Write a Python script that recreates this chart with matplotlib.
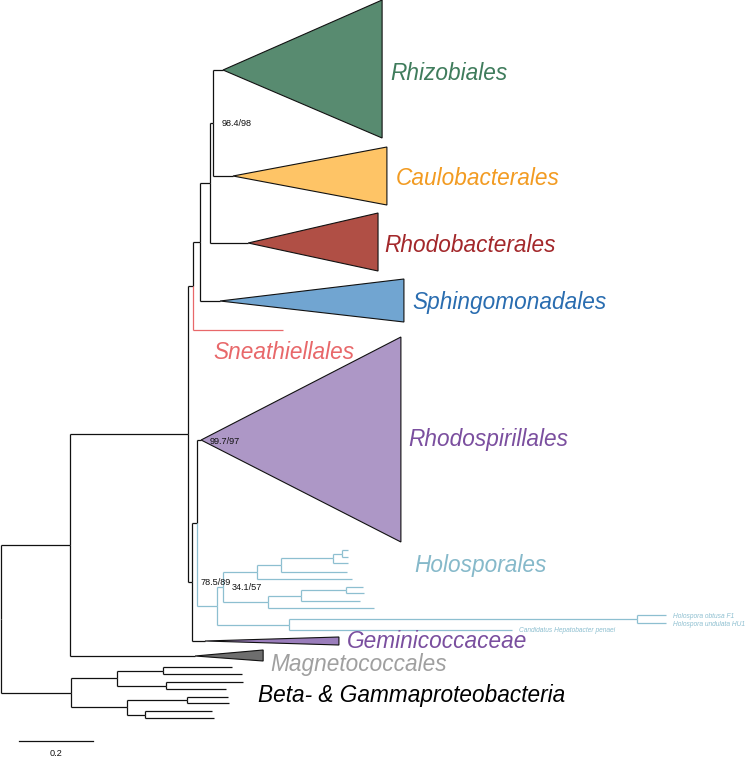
import matplotlib
matplotlib.use("Agg")
import matplotlib.pyplot as plt
from matplotlib.patches import Polygon

# ---------------- data: tree topology & branch lengths (subst./site) ----------------
node_name = ["root", "R0", "BG", "A", "Magnetococcales", "B", "N1", "D", "Sneathiellales",
             "E", "Sphingomonadales", "F", "Rhodobacterales", "Rhizobiales", "Caulobacterales",
             "C", "Geminicoccaceae", "Rhodospirillales", "H", "H1", "H2", "H11", "H12",
             "H111", "h5", "H1111", "h4", "H11111", "h3", "h1", "h2", "H121", "h9",
             "H1211", "h8", "h6", "h7", "Hol", "Candidatus Hepatobacter penaei",
             "Holospora obtusa F1", "Holospora undulata HU1",
             "BG1", "BG2", "BG11", "BG12", "g1", "g2", "g3", "g4", "BG21", "BG22",
             "g5", "g6", "g7", "g8"]
node_parent = [None, "root", "root", "R0", "R0", "A", "A", "B", "B",
               "D", "D", "E", "E", "F", "F",
               "N1", "N1", "C", "C", "H", "H", "H1", "H1",
               "H11", "H11", "H111", "H111", "H1111", "H1111", "H11111", "H11111", "H12", "H12",
               "H121", "H121", "H1211", "H1211", "H2", "H2",
               "Hol", "Hol",
               "BG", "BG", "BG1", "BG1", "BG11", "BG11", "BG12", "BG12", "BG2", "BG2",
               "BG21", "BG21", "BG22", "BG22"]
branch_len = [0.0, 0.1865, 0.189, 0.319, 0.338, 0.0135, 0.0108, 0.019, 0.243,
              0.027, 0.054, 0.008, 0.103, 0.027, 0.054,
              0.0135, 0.035, 0.011, 0.054, 0.016, 0.195, 0.092, 0.122,
              0.065, 0.257, 0.141, 0.178, 0.024, 0.041, 0.016, 0.016, 0.089, 0.286,
              0.122, 0.159, 0.046, 0.049, 0.940, 0.603,
              0.078, 0.078,
              0.124, 0.151, 0.124, 0.132, 0.186, 0.214, 0.208, 0.162, 0.162, 0.049,
              0.111, 0.113, 0.181, 0.186]

# collapsed clades: depth of the collapsed subtree
clade_names = ["Rhizobiales", "Caulobacterales", "Rhodobacterales", "Sphingomonadales",
               "Rhodospirillales", "Geminicoccaceae", "Magnetococcales"]
clade_depth = [0.430, 0.416, 0.351, 0.497, 0.540, 0.362, 0.184]

# node support values (SH-aLRT / UFBoot)
support_nodes = ["F", "Rhodospirillales", "N1", "H1"]
support_text = ["98.4/98", "99.7/97", "78.5/89", "34.1/57"]

# ---------------- layout (rows) ----------------
tip_row = {"Rhizobiales": 70, "Caulobacterales": 176, "Rhodobacterales": 243,
           "Sphingomonadales": 301, "Sneathiellales": 330, "Rhodospirillales": 440,
           "h1": 550, "h2": 557, "h3": 563, "h4": 572, "h5": 579, "h6": 587, "h7": 593,
           "h8": 601, "h9": 608, "Holospora obtusa F1": 615, "Holospora undulata HU1": 623,
           "Candidatus Hepatobacter penaei": 630, "Geminicoccaceae": 641,
           "Magnetococcales": 656, "g1": 667, "g2": 674, "g3": 682, "g4": 689,
           "g5": 697, "g6": 703, "g7": 711, "g8": 718}
clade_span = {"Rhizobiales": (0, 138), "Caulobacterales": (147, 205),
              "Rhodobacterales": (213, 271), "Sphingomonadales": (279, 322),
              "Rhodospirillales": (337, 542), "Geminicoccaceae": (637, 645),
              "Magnetococcales": (650, 661)}
clade_fill = {"Rhizobiales": "#588b70", "Caulobacterales": "#fec466",
              "Rhodobacterales": "#b04f45", "Sphingomonadales": "#71a5d1",
              "Rhodospirillales": "#ad97c6", "Geminicoccaceae": "#9a7dbb",
              "Magnetococcales": "#6e6e6e"}
label_color = {"Rhizobiales": "#3f7c5c", "Caulobacterales": "#f29b22",
               "Rhodobacterales": "#a3282b", "Sphingomonadales": "#2a6db0",
               "Rhodospirillales": "#7b4f9f", "Geminicoccaceae": "#7a4f9f",
               "Magnetococcales": "#a0a0a0", "Sneathiellales": "#e8686a",
               "Holosporales": "#86b9ca", "Beta- & Gammaproteobacteria": "#000000"}
HOLO = "#8dbfd0"
SNEATH = "#e8686a"

PX = 370.0  # pixels per unit

# ---------------- compute coordinates ----------------
children = {n: [] for n in node_name}
par = dict(zip(node_name, node_parent))
bl = dict(zip(node_name, branch_len))
for n, p in zip(node_name, node_parent):
    if p is not None:
        children[p].append(n)

X, Y = {}, {}
def set_x(n, x0):
    X[n] = x0
    for c in children[n]:
        set_x(c, x0 + bl[c])
set_x("root", 0.0)

def set_y(n):
    if not children[n]:
        Y[n] = tip_row[n]
    else:
        for c in children[n]:
            set_y(c)
        Y[n] = (Y[children[n][0]] + Y[children[n][-1]]) / 2.0
set_y("root")

def in_clade(n, anc):
    while n is not None:
        if n == anc:
            return True
        n = par[n]
    return False

def color_of(n):
    if in_clade(n, "H"):
        return HOLO
    if n == "Sneathiellales":
        return SNEATH
    return "#111111"

# ---------------- draw ----------------
fig = plt.figure(figsize=(7.51, 7.59), dpi=100)
ax = fig.add_axes([0, 0, 1, 1])
ax.set_xlim(-1 / PX, 750 / PX)
ax.set_ylim(759, 0)
ax.axis("off")

FONT = ["Liberation Sans", "DejaVu Sans"]
LW = 0.9

for n in node_name:
    p = par[n]
    if p is None:
        continue
    col = color_of(n)
    ax.plot([X[p], X[p]], [Y[p], Y[n]], color=col, lw=LW, solid_capstyle="butt", zorder=2)
    ax.plot([X[p], X[n]], [Y[n], Y[n]], color=col, lw=LW, solid_capstyle="butt", zorder=2)

for name, depth in zip(clade_names, clade_depth):
    top, bot = clade_span[name]
    xr = X[name] + depth
    poly = Polygon([(X[name], Y[name]), (xr, top), (xr, bot)], closed=True,
                   facecolor=clade_fill[name], edgecolor="#111111", lw=0.8, zorder=3)
    ax.add_patch(poly)

# clade labels
big = 16.3
label_gap = {"Rhizobiales": 8, "Caulobacterales": 9, "Rhodobacterales": 6,
             "Sphingomonadales": 8, "Rhodospirillales": 7, "Geminicoccaceae": 8,
             "Magnetococcales": 7}
label_dy = {"Rhizobiales": 1, "Caulobacterales": 0, "Rhodobacterales": 0,
            "Sphingomonadales": -1, "Rhodospirillales": -3, "Geminicoccaceae": -2,
            "Magnetococcales": 6}
for name, depth in zip(clade_names, clade_depth):
    ax.text(X[name] + depth + label_gap[name] / PX, Y[name] + label_dy[name], name,
            fontsize=big, style="italic", family=FONT, color=label_color[name],
            ha="left", va="center_baseline", zorder=4)

ax.text(X["Sneathiellales"] - 70 / PX, Y["Sneathiellales"] + 20, "Sneathiellales",
        fontsize=big, style="italic", family=FONT, color=label_color["Sneathiellales"],
        ha="left", va="center_baseline")
ax.text(413 / PX, Y["h4"] - 9, "Holosporales", fontsize=big, style="italic", family=FONT,
        color=label_color["Holosporales"], ha="left", va="center_baseline")
ax.text(257 / PX, Y["BG"], "Beta- & Gammaproteobacteria", fontsize=big, style="italic",
        family=FONT, color="#000000", ha="left", va="center_baseline")

# small tip labels
for tip in ["Holospora obtusa F1", "Holospora undulata HU1", "Candidatus Hepatobacter penaei"]:
    ax.text(X[tip] + 7 / PX, Y[tip], tip, fontsize=4.8, style="italic", family=FONT,
            color=HOLO, ha="left", va="center_baseline")

# support values
for n, t in zip(support_nodes, support_text):
    ax.text(X[n] + 9 / PX, Y[n], t, fontsize=6.6, family=FONT, color="#111111",
            ha="left", va="center_baseline", zorder=5)

# scale bar
sb_len = 0.2
sb_x0 = 18 / PX
ax.plot([sb_x0, sb_x0 + sb_len], [741, 741], color="#111111", lw=LW)
ax.text(sb_x0 + sb_len / 2, 753, "0.2", fontsize=6.6, family=FONT, color="#111111",
        ha="center", va="center_baseline")

fig.savefig("out.png", dpi=100)
